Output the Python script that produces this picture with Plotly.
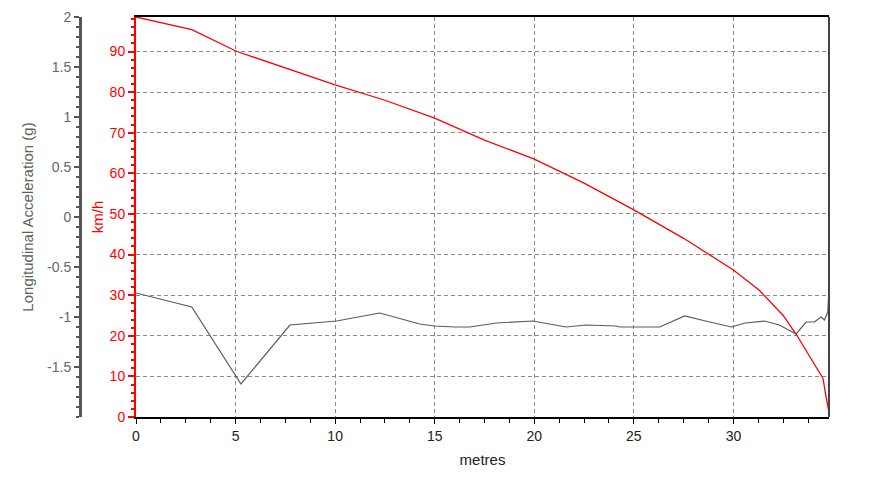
import plotly.graph_objects as go

# ---- data ----
speed_x = [0, 2.8, 5.07, 7.5, 10, 12.5, 15, 17.5, 20, 22.5, 25, 27.5, 30,
           31.3, 32.5, 33.2, 33.8, 34.5, 34.65, 34.78]
speed_kmh = [98.5, 95.4, 90, 85.9, 81.8, 78, 73.6, 68.2, 63.5, 57.6, 51, 44, 36.2,
             31.2, 25, 20, 15, 9.5, 5, 1.6]

accel_x = [0, 2.8, 5.27, 7.73, 10.07, 12.24, 14.25, 15, 16, 16.76, 18.1, 19.93,
           21.6, 22.6, 24.1, 24.3, 26.3, 27.55, 28.6, 29.9, 30.6, 31.56, 32.3,
           33.15, 33.65, 34.07, 34.4, 34.57, 34.74, 34.78]
accel_g = [-0.76, -0.90, -1.67, -1.08, -1.04, -0.96, -1.07, -1.09, -1.10, -1.10,
           -1.06, -1.04, -1.10, -1.08, -1.09, -1.10, -1.10, -0.99, -1.04, -1.10,
           -1.06, -1.04, -1.08, -1.17, -1.05, -1.05, -1.00, -1.03, -0.95, -0.79]

x_ticks = [0, 5, 10, 15, 20, 25, 30]
kmh_ticks = [0, 10, 20, 30, 40, 50, 60, 70, 80, 90]
g_ticks = [2, 1.5, 1, 0.5, 0, -0.5, -1, -1.5]
g_ticktext = ["2", "1.5", "1", "0.5", "0", "-0.5", "-1", "-1.5"]

FONT = "Liberation Sans, Arial, sans-serif"
OFF = 8  # default page body margin
W, H = 869 - OFF, 480 - OFF
ML, MR, MT, MB = 12, 40, 17 - OFF, 63
pw = W - ML - MR
plot_left_px = 136 - OFF
g_axis_px = 80 - OFF
GRID_DASH = "4px,3px"

fig = go.Figure()
fig.add_trace(go.Scatter(x=speed_x, y=speed_kmh, mode="lines",
                         line=dict(color="#ff0000", width=1.3),
                         xaxis="x", yaxis="y", showlegend=False))
fig.add_trace(go.Scatter(x=accel_x, y=accel_g, mode="lines",
                         line=dict(color="#5a5a5a", width=1.2),
                         xaxis="x", yaxis="y2", showlegend=False))

fig.update_layout(
    width=W, height=H,
    margin=dict(l=ML, r=MR, t=MT, b=MB, autoexpand=False),
    paper_bgcolor="white", plot_bgcolor="white",
    font=dict(family=FONT, size=14, color="#333"),
    xaxis=dict(
        domain=[(plot_left_px - ML) / pw, 1],
        range=[0, 34.8],
        tickvals=x_ticks,
        showline=True, linecolor="black", linewidth=2, mirror=True,
        ticks="outside", ticklen=5, tickcolor="black",
        minor=dict(dtick=1.25, tick0=0, ticks="outside", ticklen=4,
                   tickcolor="black", showgrid=False),
        showgrid=True, gridcolor="#8a8a8a", griddash=GRID_DASH, gridwidth=1,
        zeroline=False,
        tickfont=dict(size=14, color="#222"),
        title=dict(text="metres", font=dict(size=15, color="#222"), standoff=12),
    ),
    yaxis=dict(
        range=[0, 98.5],
        tickvals=kmh_ticks,
        showline=True, linecolor="#ff0000", linewidth=2,
        ticks="outside", ticklen=6, tickcolor="#ff0000", tickwidth=2,
        minor=dict(dtick=2, tick0=0, ticks="outside", ticklen=3,
                   tickcolor="#ff0000", showgrid=False),
        showgrid=True, gridcolor="#8a8a8a", griddash=GRID_DASH, gridwidth=1,
        zeroline=False,
        tickfont=dict(size=14, color="#ff0000"),
        title=dict(text="km/h", font=dict(size=15, color="#ff0000"), standoff=2),
    ),
    yaxis2=dict(
        overlaying="y", anchor="free", side="left",
        position=(g_axis_px - ML) / pw,
        range=[-2, 2],
        tickvals=g_ticks, ticktext=g_ticktext,
        showline=True, linecolor="#555555", linewidth=3,
        ticks="outside", ticklen=5, tickcolor="#555555", tickwidth=2,
        minor=dict(dtick=0.1, tick0=0, ticks="outside", ticklen=3,
                   tickcolor="#555555", showgrid=False),
        showgrid=False, zeroline=False,
        tickfont=dict(size=14, color="#666666"),
        title=dict(text="Longitudinal Acceleration (g)",
                   font=dict(size=15, color="#606060"), standoff=8),
    ),
    shapes=[dict(type="line", xref="x domain", yref="y domain",
                 x0=1, x1=1, y0=0, y1=1,
                 line=dict(color="#444444", width=2))],
)

fig.write_html("out.html")
